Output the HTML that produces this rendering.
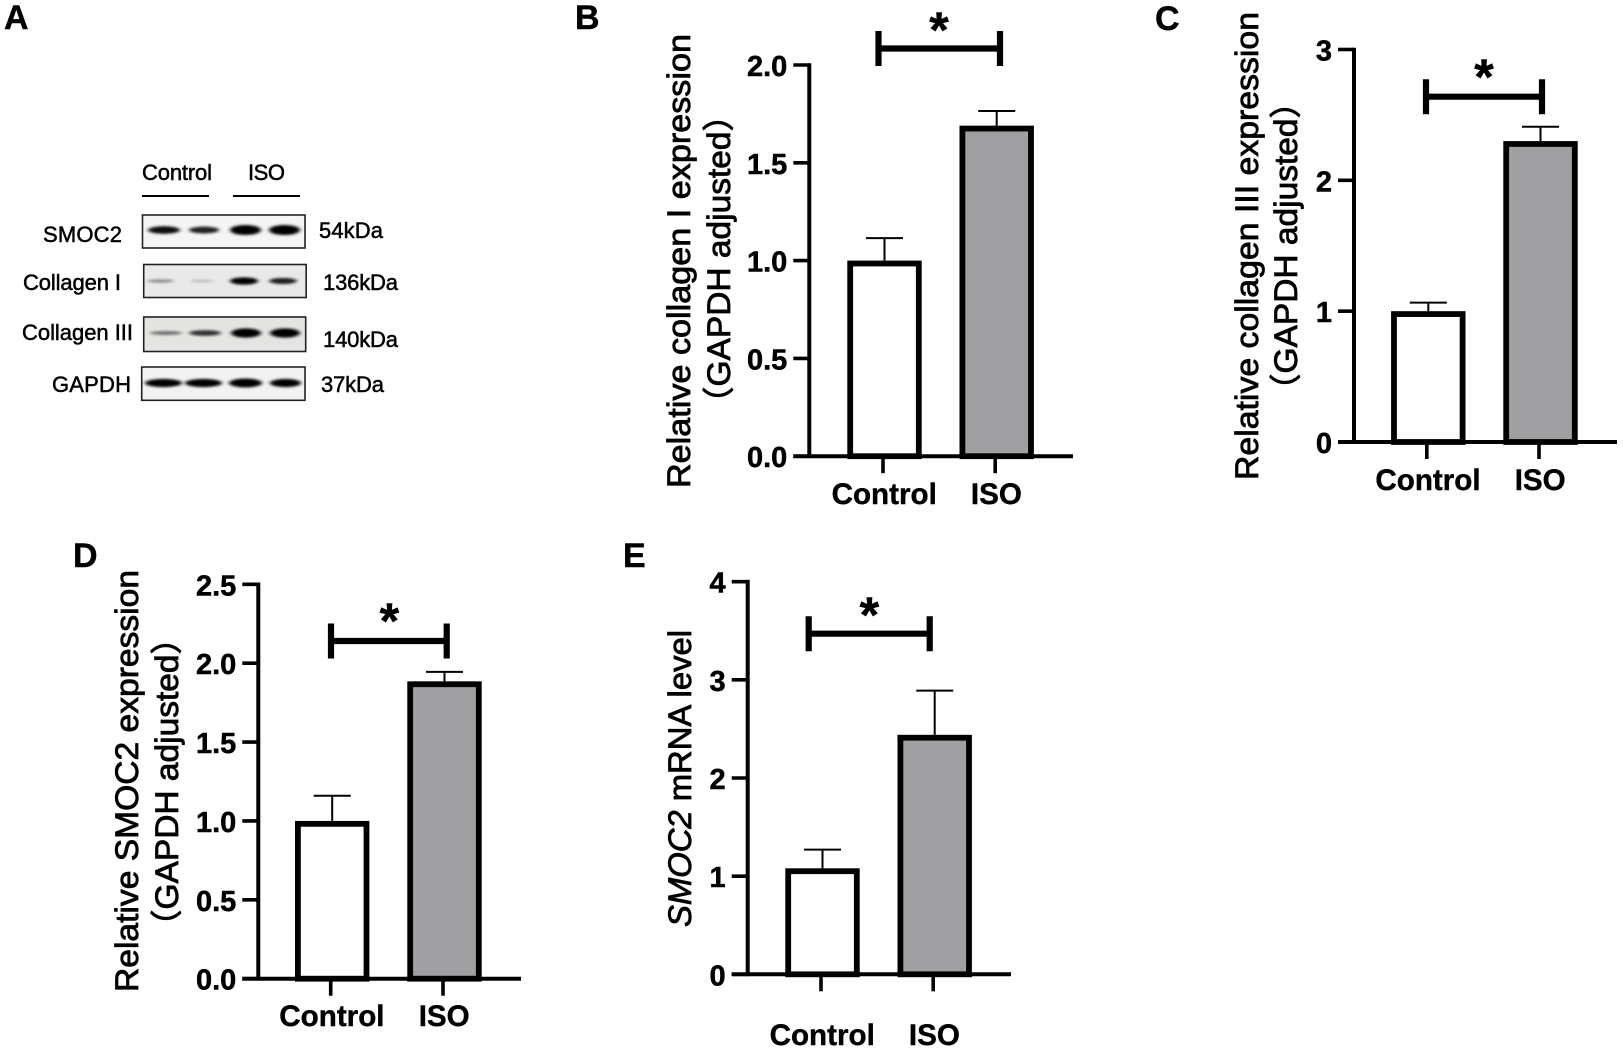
<!DOCTYPE html>
<html lang="en">
<head>
<meta charset="utf-8">
<title>SMOC2 and collagen expression figure</title>
<style>
  html, body { margin: 0; padding: 0; background: #fff; }
  svg { display: block; }
  text { font-family: "Liberation Sans", "Noto Sans CJK SC", sans-serif; fill: #000; }
  .letter { font-size: 34px; font-weight: bold; stroke: #000; stroke-width: .4px; }
  .ytitle { font-size: 32px; stroke: #000; stroke-width: .8px; }
  .blot-label { font-size: 22px; stroke: #000; stroke-width: .5px; }
  .tick-label { font-size: 29px; font-weight: bold; stroke: #000; stroke-width: .5px; }
  .cat-label { font-size: 29.6px; font-weight: bold; stroke: #000; stroke-width: .4px; }
  .star { font-size: 50px; font-weight: bold; stroke: #000; stroke-width: .5px; }
</style>
</head>
<body>
<svg id="figure" xmlns="http://www.w3.org/2000/svg" width="1623" height="1050" viewBox="0 0 1623 1050">
  <defs>
    <filter id="bandBlur" x="-20%" y="-100%" width="140%" height="300%"><feGaussianBlur stdDeviation="2 1.2"/></filter>
  </defs>
  <rect x="0" y="0" width="1623" height="1050" fill="#fff"/>

  <text class="letter" x="4" y="29">A</text>
  <text class="letter" x="575" y="29">B</text>
  <text class="letter" x="1155" y="30">C</text>
  <text class="letter" x="73" y="567">D</text>
  <text class="letter" x="623" y="567">E</text>

  <g id="panel-a">
    <text class="blot-label" x="142" y="180" textLength="70">Control</text>
    <text class="blot-label" x="248" y="180" textLength="37">ISO</text>
    <line x1="142" x2="209" y1="196" y2="196" stroke="#000" stroke-width="2"/>
    <line x1="233" x2="300" y1="196" y2="196" stroke="#000" stroke-width="2"/>
    <text class="blot-label" x="43" y="242" textLength="79">SMOC2</text>
    <text class="blot-label" x="23" y="290" textLength="98">Collagen I</text>
    <text class="blot-label" x="22" y="340" textLength="111">Collagen III</text>
    <text class="blot-label" x="52" y="392" textLength="79">GAPDH</text>
    <text class="blot-label" x="319" y="238" textLength="64">54kDa</text>
    <text class="blot-label" x="323" y="290" textLength="75">136kDa</text>
    <text class="blot-label" x="323" y="347" textLength="75">140kDa</text>
    <text class="blot-label" x="321" y="392" textLength="63">37kDa</text>
  </g>

  <text class="ytitle" transform="translate(690,488) rotate(-90)" textLength="454" lengthAdjust="spacingAndGlyphs">Relative collagen I expression</text>
  <text class="ytitle" transform="translate(730,420) rotate(-90)" textLength="322" lengthAdjust="spacingAndGlyphs">（GAPDH adjusted）</text>

  <text class="ytitle" transform="translate(1258,480) rotate(-90)" textLength="468" lengthAdjust="spacingAndGlyphs">Relative collagen III expression</text>
  <text class="ytitle" transform="translate(1297,407) rotate(-90)" textLength="322" lengthAdjust="spacingAndGlyphs">（GAPDH adjusted）</text>

  <text class="ytitle" transform="translate(138,992) rotate(-90)" textLength="422" lengthAdjust="spacingAndGlyphs">Relative SMOC2 expression</text>
  <text class="ytitle" transform="translate(178,943) rotate(-90)" textLength="322" lengthAdjust="spacingAndGlyphs">（GAPDH adjusted）</text>

  <text class="ytitle" transform="translate(691,927) rotate(-90)" textLength="297" lengthAdjust="spacingAndGlyphs"><tspan font-style="italic">SMOC2</tspan> mRNA level</text>

  <g id="charts"></g>
  <g id="blots"></g>
</svg>

<script>
// ---- chart data ----
const categories = ['Control', 'ISO'];

const collagen1TickLabels = ['0.0', '0.5', '1.0', '1.5', '2.0'];
const collagen1Means = [1.0, 1.69];
const collagen1ErrorTops = [1.115, 1.765];

const collagen3TickLabels = ['0', '1', '2', '3'];
const collagen3Means = [1.0, 2.3];
const collagen3ErrorTops = [1.065, 2.41];

const smoc2TickLabels = ['0.0', '0.5', '1.0', '1.5', '2.0', '2.5'];
const smoc2Means = [1.0, 1.885];
const smoc2ErrorTops = [1.16, 1.945];

const mrnaTickLabels = ['0', '1', '2', '3', '4'];
const mrnaMeans = [1.08, 2.44];
const mrnaErrorTops = [1.27, 2.89];

// western-blot band intensities (0-1), one row per protein, four lanes
const blotProteins = ['smoc2', 'collagen-1', 'collagen-3', 'gapdh'];
const smoc2BandIntensity = [0.82, 0.75, 1.0, 1.0];
const collagen1BandIntensity = [0.36, 0.18, 0.88, 0.76];
const collagen3BandIntensity = [0.45, 0.68, 1.0, 1.0];
const gapdhBandIntensity = [0.92, 0.92, 0.98, 0.92];

// ---- helpers ----
const NS = 'http://www.w3.org/2000/svg';
const chartsRoot = document.getElementById('charts');
const blotsRoot = document.getElementById('blots');

function shape(parent, tag, props) {
  const node = document.createElementNS(NS, tag);
  for (const key in props) node.setAttribute(key, props[key]);
  parent.appendChild(node);
  return node;
}

function makeYScale(layout, ticks) {
  const max = parseFloat(ticks[ticks.length - 1]);
  return function (v) { return layout.yBase - (v / max) * (layout.yBase - layout.yTop); };
}

function makeXScale(layout) {
  return function (i) { return layout.xFirst + i * layout.xStep; };
}

function drawPanel(id, layout, ticks, means, errorTops) {
  const y = makeYScale(layout, ticks);
  const x = makeXScale(layout);
  const g = shape(chartsRoot, 'g', {});
  
  

  categories.forEach(function (cat, i) {
    const cx = x(i);
    const top = y(means[i]);
    const errTop = y(errorTops[i]);

    const stem = shape(g, 'line', { x1: cx, x2: cx, y1: top, y2: errTop, stroke: '#000', 'stroke-width': 2 });
    
    

    const cap = shape(g, 'line', { x1: cx - 18.5, x2: cx + 18.5, y1: errTop, y2: errTop, stroke: '#000', 'stroke-width': 2 });
    
    

    const bar = shape(g, 'rect', {
      x: cx - 37.2 + 2.9, y: top + 2.9,
      width: 74.4 - 5.8, height: Math.max(0, layout.yBase - top - 2.9),
      fill: i === 0 ? '#ffffff' : '#a0a0a3', stroke: '#000', 'stroke-width': 5.8
    });
    
    

    const tick = shape(g, 'line', { x1: cx - 1.5, x2: cx - 1.5, y1: layout.yBase, y2: layout.yBase + 17, stroke: '#000', 'stroke-width': 3.6 });
    
    

    const label = shape(g, 'text', { x: cx - 0.3, y: layout.catBaseline, 'text-anchor': 'middle', class: 'cat-label' });
    label.textContent = cat;
    
    
  });

  const yAxis = shape(g, 'line', { x1: layout.xAxis, x2: layout.xAxis, y1: layout.yTop - 1.8, y2: layout.yBase + 1.8, stroke: '#000', 'stroke-width': 4 });
  
  

  const xAxis = shape(g, 'line', { x1: layout.xAxis - 16, x2: layout.xEnd, y1: layout.yBase, y2: layout.yBase, stroke: '#000', 'stroke-width': 4 });
  
  

  ticks.forEach(function (t) {
    const ty = y(parseFloat(t));
    const mark = shape(g, 'line', { x1: layout.xAxis - 16, x2: layout.xAxis, y1: ty, y2: ty, stroke: '#000', 'stroke-width': 3.6 });
    
    

    const tl = shape(g, 'text', { x: layout.xAxis - 22, y: ty + 11, 'text-anchor': 'end', class: 'tick-label' });
    tl.textContent = t;
    
    
  });

  const s = layout.sig;
  const sigLine = shape(g, 'line', { x1: s.x1, x2: s.x2, y1: s.y, y2: s.y, stroke: '#000', 'stroke-width': 6.2 });
  
  

  const capL = shape(g, 'line', { x1: s.x1, x2: s.x1, y1: s.y - 17.5, y2: s.y + 17.5, stroke: '#000', 'stroke-width': 6.2 });
  
  

  const capR = shape(g, 'line', { x1: s.x2, x2: s.x2, y1: s.y - 17.5, y2: s.y + 17.5, stroke: '#000', 'stroke-width': 6.2 });
  
  

  const star = shape(g, 'text', { x: s.starX, y: s.starY, 'text-anchor': 'middle', class: 'star' });
  star.textContent = '*';
  
  
}

drawPanel('collagen-1', {
  xAxis: 809.3, xEnd: 1073, yTop: 65, yBase: 456.2, xFirst: 884.5, xStep: 112.2, catBaseline: 504,
  sig: { x1: 878.5, x2: 1000, y: 48.5, starX: 939, starY: 47 }
}, collagen1TickLabels, collagen1Means, collagen1ErrorTops);

drawPanel('collagen-3', {
  xAxis: 1354, xEnd: 1617, yTop: 49.5, yBase: 442, xFirst: 1428.3, xStep: 112.2, catBaseline: 490,
  sig: { x1: 1426, x2: 1542, y: 96.7, starX: 1484, starY: 94 }
}, collagen3TickLabels, collagen3Means, collagen3ErrorTops);

drawPanel('smoc2', {
  xAxis: 258.3, xEnd: 521, yTop: 584.3, yBase: 978.7, xFirst: 332.2, xStep: 112.3, catBaseline: 1026,
  sig: { x1: 331, x2: 446.7, y: 641, starX: 389.3, starY: 638 }
}, smoc2TickLabels, smoc2Means, smoc2ErrorTops);

drawPanel('smoc2-mrna', {
  xAxis: 747.7, xEnd: 1011, yTop: 581.7, yBase: 974.3, xFirst: 822.5, xStep: 112.2, catBaseline: 1045,
  sig: { x1: 808.7, x2: 929.7, y: 633.7, starX: 869.3, starY: 632 }
}, mrnaTickLabels, mrnaMeans, mrnaErrorTops);

// ---- western blots ----
function drawBlot(protein, box, fillColor, lanes, bandY, thick, intensity) {
  const g = shape(blotsRoot, 'g', {});
  
  

  const frame = shape(g, 'rect', { x: box.x, y: box.y, width: box.w, height: box.h, fill: fillColor, stroke: '#222', 'stroke-width': 1.6 });
  
  

  lanes.forEach(function (lane, i) {
    const v = intensity[i];
    const band = shape(g, 'ellipse', {
      cx: (lane[0] + lane[1]) / 2, cy: bandY,
      rx: (lane[1] - lane[0]) / 2, ry: thick * (0.3 + 0.8 * v * v),
      fill: '#000', 'fill-opacity': Math.min(1, v * 1.15), filter: 'url(#bandBlur)'
    });
    
    
  });
}

drawBlot(blotProteins[0], { x: 142.5, y: 215, w: 162.5, h: 33 }, '#f5f5f5',
  [[148, 180], [189, 219], [230, 261], [269, 300]], 230, 4.6, smoc2BandIntensity);
drawBlot(blotProteins[1], { x: 143.7, y: 264.5, w: 162.5, h: 33 }, '#e9e9e9',
  [[147, 174], [190, 214], [230, 258], [269, 297]], 281, 4, collagen1BandIntensity);
drawBlot(blotProteins[2], { x: 143.7, y: 317, w: 162, h: 34.5 }, '#e4e4e2',
  [[150, 182], [189, 221], [231, 261], [270, 300]], 333, 4.2, collagen3BandIntensity);
drawBlot(blotProteins[3], { x: 141.7, y: 367, w: 163.3, h: 33.3 }, '#f2f2f2',
  [[145, 182], [185, 222], [229, 262], [270, 301]], 383, 4.2, gapdhBandIntensity);
</script>
</body>
</html>
